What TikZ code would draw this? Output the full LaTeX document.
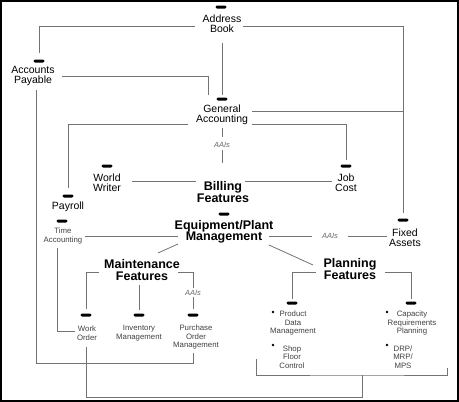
\documentclass[tikz,border=0pt]{standalone}
\usepackage{fontspec}
\setmainfont{Liberation Sans}
\begin{document}
\begin{tikzpicture}[x=1pt,y=-1pt,
 conn/.style={draw=black!55, line width=0.8pt},
 lbl/.style={inner sep=0, align=center, font=\fontsize{10.5}{10}\selectfont},
 big/.style={inner sep=0, align=center, font=\fontsize{12.5}{11.5}\selectfont\bfseries},
 sml/.style={inner sep=0, align=center, text=black!75, font=\fontsize{7.8}{8.5}\selectfont},
 aai/.style={inner sep=0, text=black!60, font=\fontsize{7.5}{8}\selectfont\itshape},
 icon/.style={fill=black, inner sep=0, minimum width=11pt, minimum height=3pt, rounded corners=1.3pt},
 bul/.style={circle, fill=black, inner sep=0, minimum size=2.6pt},
 dotsarrow/.style={fill=white, inner sep=0, minimum width=19pt, minimum height=8pt,
   path picture={
     \fill ([xshift=1.8pt]path picture bounding box.west) circle (1.2pt);
     \fill ([xshift=5.2pt]path picture bounding box.west) circle (1.2pt);
     \fill ([xshift=8pt,yshift=-1.3pt]path picture bounding box.west) rectangle ([xshift=12.5pt,yshift=1.3pt]path picture bounding box.west);
     \fill ([xshift=12pt,yshift=-3.3pt]path picture bounding box.west) -- ([xshift=12pt,yshift=3.3pt]path picture bounding box.west) -- ([xshift=18.5pt]path picture bounding box.west) -- cycle;
   }}
]
\useasboundingbox (0,0) rectangle (459,402);
\draw[line width=2pt] (1,1) rectangle (458,401);

% text nodes
\node[lbl] (ab) at (222,24) {Address\\Book};
\node[lbl] (ap) at (33,76) {Accounts\\Payable};
\node[lbl] (ga) at (222,115) {General\\Accounting};
\node[lbl] (ww) at (107,183) {World\\Writer};
\node[big] (bf) at (223,192) {Billing\\Features};
\node[lbl] (jc) at (346,183) {Job\\Cost};
\node[lbl] (pr) at (68,207) {Payroll};
\node[sml] (ta) at (63,236) {Time\\Accounting};
\node[big] (ep) at (224,232) {Equipment/Plant\\Management};
\node[lbl] (fa) at (405,238) {Fixed\\Assets};
\node[big] (mf) at (142,270) {Maintenance\\Features};
\node[big] (pf) at (350,269) {Planning\\Features};
\node[sml] (wo) at (87,333) {Work\\Order};
\node[sml] (im) at (139,333) {Inventory\\Management};
\node[sml] (po) at (196,337) {Purchase\\Order\\Management};
\node[sml] (pdm) at (293,323) {Product\\Data\\Management};
\node[sml] (sfc) at (292,357) {Shop\\Floor\\Control};
\node[sml] (crp) at (412,323) {Capacity\\Requirements\\Planning};
\node[sml] (drp) at (403,357) {DRP/\\MRP/\\MPS};

% AAIs labels
\node[aai] (aai1) at (222,145) {AAIs};
\node[aai] (aai2) at (330,236) {AAIs};
\node[aai] (aai3) at (193,293) {AAIs};

% icons
\node[icon] (abI) at (221,7) {};
\node[icon] (apI) at (39,61) {};
\node[icon] (gaI) at (222,99) {};
\node[icon] (wwI) at (107,166) {};
\node[icon] (jcI) at (346,166) {};
\node[icon] (prI) at (68,196) {};
\node[icon] (taI) at (62,221) {};
\node[icon] (epI) at (224,214) {};
\node[icon] (faI) at (403,220) {};
\node[icon] (woI) at (86,315) {};
\node[icon] (imI) at (139,315) {};
\node[icon] (poI) at (193,315) {};
\node[icon] (pdmI) at (292,303) {};
\node[icon] (crpI) at (411,303) {};

% dots arrows
\node[dotsarrow] (bfD) at (221,170) {};
\node[dotsarrow] (mfD) at (140,250) {};
\node[dotsarrow] (pfD) at (350,249) {};

% bullets
\node[bul] (b1) at (273,312) {};
\node[bul] (b2) at (273,345) {};
\node[bul] (b3) at (387,312) {};
\node[bul] (b4) at (387,345) {};

\coordinate (jn) at (362,375);

% connectors
\draw[conn] ([shift={(-27,2)}]ab.center) -| ([shift={(0,-8)}]apI.center);
\draw[conn] ([shift={(21,2)}]ab.center) -| ([shift={(0,-7)}]faI.center);
\draw[conn] ([shift={(0,19)}]ab.center) -- ([shift={(0,-4)}]gaI.center);
\draw[conn] ([shift={(29,0)}]ap.center) -| ([shift={(-14,-4)}]gaI.center);
\draw[conn] ([shift={(3,14)}]ap.center) |- ([shift={(-3,26)}]po.center) -- ([shift={(-3,16)}]po.center);
\draw[conn] ([shift={(-34,9)}]ga.center) -| ([shift={(0,-8)}]prI.center);
\draw[conn] ([shift={(30,-4)}]ga.center) -| ([shift={(0,-7)}]faI.center);
\draw[conn] ([shift={(30,9)}]ga.center) -| ([shift={(0,-6)}]jcI.center);
\draw[conn] ([shift={(0,13)}]ga.center) -- ([shift={(0,-8)}]aai1.center);
\draw[conn] ([shift={(0,5)}]aai1.center) -- ([shift={(1,-7)}]bfD.center);
\draw[conn] ([shift={(25,-2)}]ww.center) -- ([shift={(-27,-11)}]bf.center);
\draw[conn] ([shift={(22,-11)}]bf.center) -- ([shift={(-14,-2)}]jc.center);
\draw[conn] ([shift={(22,0)}]ta.center) -- ([shift={(-46,4)}]ep.center);
\draw[conn] ([shift={(-6,12)}]ta.center) |- ([shift={(-12,-2)}]wo.center);
\draw[conn] ([shift={(45,4)}]ep.center) -- ([shift={(-18,0)}]aai2.center);
\draw[conn] ([shift={(18,0)}]aai2.center) -- ([shift={(-18,-2)}]fa.center);
\draw[conn] ([shift={(45,13)}]ep.center) -- ([shift={(-37,-4)}]pf.center);
\draw[conn] ([shift={(-46,12)}]ep.center) -- ([shift={(16,-17)}]mf.center);
\draw[conn] ([shift={(-43,2)}]mf.center) -| ([shift={(0,-6)}]woI.center);
\draw[conn] ([shift={(-3,15)}]mf.center) -- ([shift={(0,-5)}]imI.center);
\draw[conn] ([shift={(36,2)}]mf.center) -| ([shift={(0,-5)}]aai3.center);
\draw[conn] ([shift={(0,4)}]aai3.center) -- ([shift={(0,-6)}]poI.center);
\draw[conn] ([shift={(-34,3)}]pf.center) -| ([shift={(0,-4)}]pdmI.center);
\draw[conn] ([shift={(35,3)}]pf.center) -| ([shift={(0,-4)}]crpI.center);
\draw[conn] ([shift={(-36,2)}]sfc.center) |- (jn) -| ([shift={(44,11)}]drp.center);
\draw[conn] ([shift={(-1,14)}]wo.center) |- ([shift={(0,22)}]jn) -- (jn);
\end{tikzpicture}
\end{document}
